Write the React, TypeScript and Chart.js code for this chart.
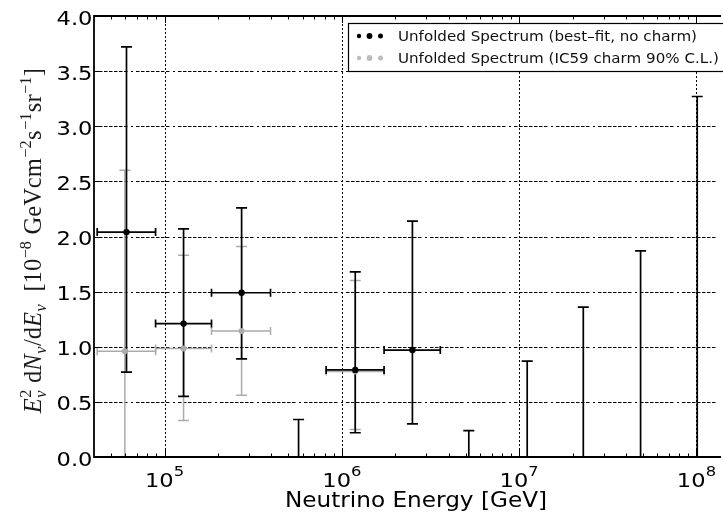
import React, { useEffect, useRef } from "react";
import { Chart, registerables } from "chart.js";

Chart.register(...registerables);

// ---------- data ----------
const energyBest = [6.1e4, 1.28e5, 2.72e5, 5.7e5, 1.19e6, 2.5e6, 5.2e6, 1.11e7, 2.3e7, 4.84e7, 1.01e8];
const fluxBest = [2.04, 1.21, 1.49, 0, 0.79, 0.97, 0, 0, 0, 0, 0];
const fluxBestUpper = [3.72, 2.07, 2.26, 0.34, 1.68, 2.14, 0.24, 0.87, 1.36, 1.87, 3.27];
const fluxBestLower = [0.77, 0.55, 0.89, 0, 0.22, 0.3, 0, 0, 0, 0, 0];
const binLowBest = [4.17e4, 8.9e4, 1.84e5, null, 8.15e5, 1.73e6, null, null, null, null, null];
const binHighBest = [8.9e4, 1.84e5, 3.96e5, null, 1.73e6, 3.59e6, null, null, null, null, null];
const markerBest = [true, true, true, false, true, true, false, false, false, false, false];

const energyCharm = [5.97e4, 1.28e5, 2.72e5, 1.19e6];
const fluxCharm = [0.96, 0.985, 1.143, 0.776];
const fluxCharmUpper = [2.6, 1.83, 1.91, 1.6];
const fluxCharmLower = [0.0, 0.33, 0.56, 0.25];
const binLowCharm = [4.17e4, 8.9e4, 1.84e5, 8.15e5];
const binHighCharm = [8.9e4, 1.84e5, 3.96e5, 1.73e6];

const yTicks = [0, 0.5, 1, 1.5, 2, 2.5, 3, 3.5, 4];
const xMajorTicks = [1e5, 1e6, 1e7, 1e8];
const xTickExponents = ["5", "6", "7", "8"];
const xMinorDecades = [1e4, 1e5, 1e6, 1e7, 1e8];

const legendLabels = [
  "Unfolded Spectrum (best\u2013fit, no charm)",
  "Unfolded Spectrum (IC59 charm 90% C.L.)",
];
const xTitle = "Neutrino Energy [GeV]";

const BLACK = "#000000";
const GREY = "#ababab";
const GREY_LEGEND = "#bdbdbd";
const SANS = "'DejaVu Sans', sans-serif";
const SERIF = "'Liberation Serif', serif";
const STRETCH = 1.13; // the reference image is slightly wider than tall

type Part = { t?: string; it?: boolean; sup?: string; sub?: string };
const yTitleParts: Part[] = [
  { t: "E", it: true },
  { sup: "2", sub: "\u03bd" },
  { t: " " },
  { t: "d" },
  { t: "N", it: true },
  { sub: "\u03bd" },
  { t: "/d" },
  { t: "E", it: true },
  { sub: "\u03bd" },
  { t: "  [10" },
  { sup: "\u22128" },
  { t: " GeVcm" },
  { sup: "\u22122" },
  { t: "s" },
  { sup: "\u22121" },
  { t: "sr" },
  { sup: "\u22121" },
  { t: "]" },
];

function buildHDash(): number[] {
  const d: number[] = [];
  for (let i = 0; i < 7; i++) d.push(3.5, 1.5);
  d.push(0, 2, 2, 3);
  return d;
}
const H_DASH = buildHDash();

// draws text stretched horizontally; align: 'left' | 'right' | 'center'
function stretchedText(
  ctx: CanvasRenderingContext2D,
  text: string,
  x: number,
  y: number,
  font: string,
  align: "left" | "right" | "center",
  sx: number
) {
  ctx.save();
  ctx.font = font;
  ctx.textAlign = align;
  ctx.textBaseline = "alphabetic";
  ctx.translate(x, y);
  ctx.scale(sx, 1);
  ctx.fillText(text, 0, 0);
  ctx.restore();
}

function drawErrorBars(
  ctx: CanvasRenderingContext2D,
  xs: any,
  ys: any,
  ex: number[],
  ey: number[],
  lo: number[],
  hi: number[],
  xl: (number | null)[],
  xh: (number | null)[],
  color: string,
  lw: number
) {
  ctx.save();
  ctx.strokeStyle = color;
  ctx.lineWidth = lw;
  ctx.setLineDash([]);
  const capW = 5.5;
  const capH = 4;
  for (let i = 0; i < ex.length; i++) {
    const px = xs.getPixelForValue(ex[i]);
    const pyLo = ys.getPixelForValue(lo[i]);
    const pyHi = ys.getPixelForValue(hi[i]);
    ctx.beginPath();
    ctx.moveTo(px, pyLo);
    ctx.lineTo(px, pyHi);
    ctx.moveTo(px - capW, pyHi);
    ctx.lineTo(px + capW, pyHi);
    if (lo[i] > 0) {
      ctx.moveTo(px - capW, pyLo);
      ctx.lineTo(px + capW, pyLo);
    }
    ctx.stroke();
    const a = xl[i];
    const b = xh[i];
    if (a != null && b != null) {
      const py = ys.getPixelForValue(ey[i]);
      const pa = xs.getPixelForValue(a);
      const pb = xs.getPixelForValue(b);
      ctx.beginPath();
      ctx.moveTo(pa, py);
      ctx.lineTo(pb, py);
      ctx.moveTo(pa, py - capH);
      ctx.lineTo(pa, py + capH);
      ctx.moveTo(pb, py - capH);
      ctx.lineTo(pb, py + capH);
      ctx.stroke();
    }
  }
  ctx.restore();
}

function drawYTitle(ctx: CanvasRenderingContext2D, cx: number, cy: number, targetLen: number) {
  const SCRIPT = 0.66;
  const measure = (size: number) => {
    let w = 0;
    for (const p of yTitleParts) {
      if (p.t) {
        ctx.font = `${p.it ? "italic " : ""}${size}px ${SERIF}`;
        w += ctx.measureText(p.t).width;
      } else {
        ctx.font = `italic ${size * SCRIPT}px ${SERIF}`;
        const ws = p.sup ? ctx.measureText(p.sup).width : 0;
        const wb = p.sub ? ctx.measureText(p.sub).width : 0;
        w += Math.max(ws, wb) + 1;
      }
    }
    return w;
  };
  const base = 20;
  const size = base * (targetLen / measure(base));
  const total = measure(size);
  ctx.save();
  ctx.translate(cx, cy);
  ctx.rotate(-Math.PI / 2);
  ctx.fillStyle = "#1a1a1a";
  ctx.textBaseline = "alphabetic";
  ctx.textAlign = "left";
  let x = -total / 2;
  for (const p of yTitleParts) {
    if (p.t) {
      ctx.font = `${p.it ? "italic " : ""}${size}px ${SERIF}`;
      ctx.fillText(p.t, x, 0);
      x += ctx.measureText(p.t).width;
    } else {
      const s = size * SCRIPT;
      let ws = 0;
      let wb = 0;
      if (p.sup) {
        ctx.font = `${s}px ${SERIF}`;
        ctx.fillText(p.sup, x + 0.5, -size * 0.4);
        ws = ctx.measureText(p.sup).width;
      }
      if (p.sub) {
        ctx.font = `italic ${s}px ${SERIF}`;
        ctx.fillText(p.sub, x + 0.5, size * 0.2);
        wb = ctx.measureText(p.sub).width;
      }
      x += Math.max(ws, wb) + 1;
    }
  }
  ctx.restore();
}

const decorPlugin = {
  id: "decor",
  beforeDatasetsDraw(chart: any) {
    const ctx: CanvasRenderingContext2D = chart.ctx;
    const area = chart.chartArea;
    const xs = chart.scales.x;
    const ys = chart.scales.y;
    ctx.save();
    // horizontal grid (dash-dot)
    ctx.strokeStyle = BLACK;
    ctx.lineWidth = 1;
    ctx.setLineDash(H_DASH);
    for (const v of yTicks) {
      if (v <= ys.min || v >= ys.max) continue;
      const y = Math.round(ys.getPixelForValue(v)) + 0.5;
      ctx.beginPath();
      ctx.moveTo(area.left, y);
      ctx.lineTo(area.right, y);
      ctx.stroke();
    }
    // vertical grid (dotted)
    ctx.setLineDash([2, 2]);
    for (const v of xMajorTicks) {
      const x = Math.round(xs.getPixelForValue(v)) + 0.5;
      ctx.beginPath();
      ctx.moveTo(x, area.top);
      ctx.lineTo(x, area.bottom);
      ctx.stroke();
    }
    ctx.restore();
    drawErrorBars(ctx, xs, ys, energyCharm, fluxCharm, fluxCharmLower, fluxCharmUpper, binLowCharm, binHighCharm, GREY, 1.5);
    drawErrorBars(ctx, xs, ys, energyBest, fluxBest, fluxBestLower, fluxBestUpper, binLowBest, binHighBest, BLACK, 1.7);
  },
  afterDatasetsDraw(chart: any) {
    const ctx: CanvasRenderingContext2D = chart.ctx;
    const area = chart.chartArea;
    const xs = chart.scales.x;
    const ys = chart.scales.y;
    ctx.save();
    ctx.setLineDash([]);
    ctx.strokeStyle = BLACK;
    // frame
    ctx.lineWidth = 1.8;
    ctx.beginPath();
    ctx.moveTo(area.right + 2, area.top);
    ctx.lineTo(area.left, area.top);
    ctx.lineTo(area.left, area.bottom);
    ctx.lineTo(area.right + 2, area.bottom);
    ctx.stroke();
    // ticks
    ctx.lineWidth = 1;
    ctx.beginPath();
    for (const v of yTicks) {
      const y = Math.round(ys.getPixelForValue(v)) + 0.5;
      ctx.moveTo(area.left, y);
      ctx.lineTo(area.left + 7, y);
    }
    for (const v of xMajorTicks) {
      const x = Math.round(xs.getPixelForValue(v)) + 0.5;
      ctx.moveTo(x, area.bottom);
      ctx.lineTo(x, area.bottom - 7);
      ctx.moveTo(x, area.top);
      ctx.lineTo(x, area.top + 7);
    }
    for (const d of xMinorDecades) {
      for (let m = 2; m <= 9; m++) {
        const v = m * d;
        if (v <= xs.min || v >= xs.max) continue;
        const x = Math.round(xs.getPixelForValue(v)) + 0.5;
        ctx.moveTo(x, area.bottom);
        ctx.lineTo(x, area.bottom - 3.5);
        ctx.moveTo(x, area.top);
        ctx.lineTo(x, area.top + 3.5);
      }
    }
    ctx.stroke();

    ctx.fillStyle = BLACK;
    // y tick labels
    for (const v of yTicks) {
      const y = ys.getPixelForValue(v);
      stretchedText(ctx, v.toFixed(1), area.left - 1.5, y + 8.5, `20px ${SANS}`, "right", STRETCH);
    }
    // x tick labels
    xMajorTicks.forEach((v, i) => {
      const x = xs.getPixelForValue(v);
      ctx.font = `20px ${SANS}`;
      const w1 = ctx.measureText("10").width * STRETCH;
      ctx.font = `14.5px ${SANS}`;
      const w2 = ctx.measureText(xTickExponents[i]).width * STRETCH;
      const start = x - (w1 + w2) / 2;
      stretchedText(ctx, "10", start, area.bottom + 30, `20px ${SANS}`, "left", STRETCH);
      stretchedText(ctx, xTickExponents[i], start + w1, area.bottom + 19, `14.5px ${SANS}`, "left", STRETCH);
    });
    // x title
    stretchedText(ctx, xTitle, 416, area.bottom + 50, `20.5px ${SANS}`, "center", STRETCH);
    // y title
    drawYTitle(ctx, 41, 237, 354);

    // legend
    const lx = 348.5;
    const ly = 23.5;
    ctx.fillStyle = "#ffffff";
    ctx.fillRect(lx, ly, 400, 48);
    ctx.lineWidth = 1.2;
    ctx.strokeStyle = BLACK;
    ctx.strokeRect(lx, ly, 400, 48);
    const rowY = [36, 58];
    const dotX = [359, 369.5, 380.5];
    const dotR = [2.2, 2.9, 2.5];
    const dotC = [BLACK, GREY_LEGEND];
    for (let r = 0; r < 2; r++) {
      ctx.fillStyle = dotC[r];
      for (let k = 0; k < 3; k++) {
        ctx.beginPath();
        ctx.arc(dotX[k], rowY[r], dotR[k], 0, Math.PI * 2);
        ctx.fill();
      }
      ctx.fillStyle = "#111111";
      ctx.font = `14px ${SANS}`;
      const natural = ctx.measureText(legendLabels[0]).width;
      stretchedText(ctx, legendLabels[r], 398, rowY[r] + 5, `14px ${SANS}`, "left", 299 / natural);
    }
    ctx.restore();
  },
};

export default function App() {
  const ref = useRef<HTMLCanvasElement>(null);
  useEffect(() => {
    document.body.style.margin = "0";
    const canvas = ref.current!;
    const chart = new Chart(canvas, {
      type: "scatter",
      data: {
        datasets: [
          {
            label: legendLabels[0],
            data: energyBest
              .map((e, i) => ({ x: e, y: fluxBest[i], show: markerBest[i] }))
              .filter((p) => p.show)
              .map((p) => ({ x: p.x, y: p.y })),
            backgroundColor: BLACK,
            borderColor: BLACK,
            pointRadius: 3.2,
            pointBorderWidth: 0,
          },
          {
            label: legendLabels[1],
            data: energyCharm.map((e, i) => ({ x: e, y: fluxCharm[i] })),
            backgroundColor: GREY,
            borderColor: GREY,
            pointRadius: 3,
            pointBorderWidth: 0,
          },
        ],
      },
      options: {
        animation: false,
        responsive: false,
        devicePixelRatio: 1,
        events: [],
        layout: { padding: { left: 94, top: 16, right: 0, bottom: 59 } },
        plugins: {
          legend: { display: false },
          tooltip: { enabled: false },
          title: { display: false },
        },
        scales: {
          x: { type: "logarithmic", min: 4e4, max: 1.34e8, display: false },
          y: { type: "linear", min: 0, max: 4, display: false },
        },
      },
      plugins: [decorPlugin],
    } as any);
    return () => chart.destroy();
  }, []);
  return (
    <canvas
      ref={ref}
      width={723}
      height={516}
      style={{ display: "block", width: 723, height: 516 }}
    />
  );
}
